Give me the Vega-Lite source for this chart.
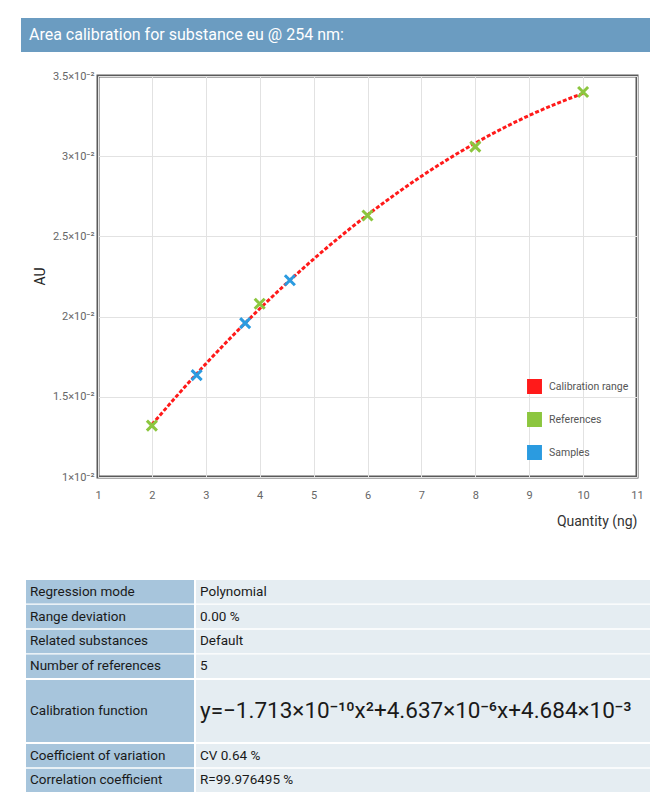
{
  "$schema": "https://vega.github.io/schema/vega-lite/v6.json",
  "background": "white",
  "padding": {"left": 21, "top": 18, "right": 0, "bottom": 0},
  "config": {
    "font": "Roboto",
    "concat": {"spacing": 0}
  },
  "datasets": {
    "curve": [
      {"series": "Calibration range", "q": 2, "au": 0.013273},
      {"series": "Calibration range", "q": 3, "au": 0.017053},
      {"series": "Calibration range", "q": 4, "au": 0.020491},
      {"series": "Calibration range", "q": 5, "au": 0.023587},
      {"series": "Calibration range", "q": 6, "au": 0.026339},
      {"series": "Calibration range", "q": 7, "au": 0.028749},
      {"series": "Calibration range", "q": 8, "au": 0.030817},
      {"series": "Calibration range", "q": 9, "au": 0.032542},
      {"series": "Calibration range", "q": 10, "au": 0.033924}
    ],
    "points": [
      {"series": "References", "q": 2, "au": 0.0132},
      {"series": "References", "q": 4, "au": 0.0208},
      {"series": "References", "q": 6, "au": 0.0263},
      {"series": "References", "q": 8, "au": 0.0306},
      {"series": "References", "q": 10, "au": 0.0340},
      {"series": "Samples", "q": 2.83, "au": 0.01635},
      {"series": "Samples", "q": 3.73, "au": 0.01959},
      {"series": "Samples", "q": 4.56, "au": 0.02227}
    ],
    "blank": [{"t": ""}],
    "rows1": [
      {"k": "Regression mode", "v": "Polynomial"},
      {"k": "Range deviation", "v": "0.00 %"},
      {"k": "Related substances", "v": "Default"},
      {"k": "Number of references", "v": "5"}
    ],
    "rows2": [
      {"k": "Calibration function", "v": "y=−1.713×10⁻¹⁰x²+4.637×10⁻⁶x+4.684×10⁻³"}
    ],
    "rows3": [
      {"k": "Coefficient of variation", "v": "CV 0.64 %"},
      {"k": "Correlation coefficient", "v": "R=99.976495 %"}
    ]
  },
  "vconcat": [
    {
      "width": 629,
      "height": 34,
      "view": {"fill": "#6b9cc1", "stroke": null},
      "data": {"values": [{"t": "Area calibration for substance eu @ 254 nm:"}]},
      "mark": {"type": "text", "align": "left", "baseline": "middle", "color": "white", "fontSize": 16},
      "encoding": {
        "text": {"field": "t"},
        "x": {"value": 8},
        "y": {"value": 17}
      }
    },
    {
      "vconcat": [
        {
          "hconcat": [
            {
              "width": 10, "height": 401, "view": {"stroke": null},
              "data": {"name": "blank"},
              "mark": {"type": "text"},
              "encoding": {"text": {"field": "t"}}
            },
            {
              "width": 539,
              "height": 401,
              "view": {"stroke": "#5a5a5a", "strokeWidth": 3},
              "layer": [
                {
                  "data": {"name": "curve"},
                  "mark": {"type": "line", "interpolate": "monotone", "strokeWidth": 3, "strokeDash": [4, 2]},
                  "encoding": {
                    "x": {"field": "q", "type": "quantitative"},
                    "y": {"field": "au", "type": "quantitative"},
                    "color": {"field": "series", "type": "nominal"}
                  }
                },
                {
                  "data": {"name": "points"},
                  "mark": {"type": "point", "shape": "M-1,-1L1,1M-1,1L1,-1", "filled": false, "strokeWidth": 3, "size": 100, "opacity": 1},
                  "encoding": {
                    "x": {"field": "q", "type": "quantitative"},
                    "y": {"field": "au", "type": "quantitative"},
                    "color": {"field": "series", "type": "nominal"}
                  }
                }
              ],
              "encoding": {
                "x": {
                  "field": "q", "type": "quantitative",
                  "scale": {"domain": [1, 11], "nice": false},
                  "axis": {
                    "values": [1, 2, 3, 4, 5, 6, 7, 8, 9, 10, 11],
                    "title": "Quantity (ng)", "titleAnchor": "end", "titleFontSize": 14, "titleFontWeight": "normal", "titleColor": "#333", "titlePadding": 14,
                    "labelFontSize": 11, "labelColor": "#666", "labelPadding": 12,
                    "domain": false, "ticks": false, "gridColor": "#e2e2e2", "labelFlush": false
                  }
                },
                "y": {
                  "field": "au", "type": "quantitative",
                  "scale": {"domain": [0.01, 0.035], "nice": false, "zero": false},
                  "axis": {
                    "values": [0.01, 0.015, 0.02, 0.025, 0.03, 0.035],
                    "labelExpr": "format(round(datum.value*1000)/10, '') + '×10⁻²'",
                    "title": "AU", "titleFontSize": 14, "titleFontWeight": "normal", "titleColor": "#222",
                    "titleX": -58, "titleY": 200, "titleBaseline": "middle", "titleAlign": "center", "titleAngle": -90,
                    "labelFontSize": 11, "labelColor": "#666", "labelPadding": 4,
                    "domain": false, "ticks": false, "gridColor": "#e2e2e2"
                  }
                },
                "color": {
                  "field": "series", "type": "nominal",
                  "scale": {"domain": ["Calibration range", "References", "Samples"], "range": ["#ff1a1a", "#8cc63f", "#2b9be0"]},
                  "legend": {
                    "title": null, "orient": "none", "legendX": 429, "legendY": 303,
                    "symbolType": "square", "symbolSize": 180, "symbolStrokeColor": "#d0d0d0", "symbolStrokeWidth": 1.5,
                    "symbolDash": [], "labelFontSize": 10.5, "labelColor": "#555", "rowPadding": 12, "labelOffset": 7,
                    "encode": {"symbols": {"update": {"fill": {"scale": "color", "field": "value"}, "opacity": {"value": 1}, "strokeDash": {"value": []}}}}
                  }
                }
              }
            }
          ],
          "spacing": 0,
          "resolve": {"scale": {"y": "independent", "x": "independent"}, "legend": {"color": "independent"}}
        },
        {
          "hconcat": [
            {
              "width": 3, "height": 209, "view": {"stroke": null},
              "data": {"name": "blank"},
              "mark": {"type": "text"},
              "encoding": {"text": {"field": "t"}}
            },
            {
              "vconcat": [
                {
                  "hconcat": [
                    {
                      "width": 168, "height": 98, "view": {"stroke": null},
                      "data": {"name": "rows1"},
                      "layer": [
                        {"mark": {"type": "rect", "color": "#a7c5dc"}, "encoding": {"x": {"value": 0}, "x2": {"value": "width"}}},
                        {"mark": {"type": "text", "align": "left", "baseline": "middle", "fontSize": 13.5, "color": "#1a1a1a"}, "encoding": {"x": {"value": 4}, "text": {"field": "k"}}}
                      ],
                      "encoding": {"y": {"field": "k", "type": "nominal", "sort": null, "axis": null, "scale": {"paddingInner": 0.06, "paddingOuter": 0}}}
                    },
                    {
                      "width": 454, "height": 98, "view": {"stroke": null},
                      "data": {"name": "rows1"},
                      "layer": [
                        {"mark": {"type": "rect", "color": "#e5edf2"}, "encoding": {"x": {"value": 0}, "x2": {"value": "width"}}},
                        {"mark": {"type": "text", "align": "left", "baseline": "middle", "fontSize": 13.5, "color": "#1a1a1a"}, "encoding": {"x": {"value": 4}, "text": {"field": "v"}}}
                      ],
                      "encoding": {"y": {"field": "k", "type": "nominal", "sort": null, "axis": null, "scale": {"paddingInner": 0.06, "paddingOuter": 0}}}
                    }
                  ],
                  "spacing": 2,
                  "resolve": {"scale": {"y": "independent"}}
                },
                {
                  "hconcat": [
                    {
                      "width": 168, "height": 62, "view": {"stroke": null},
                      "data": {"name": "rows2"},
                      "layer": [
                        {"mark": {"type": "rect", "color": "#a7c5dc"}, "encoding": {"x": {"value": 0}, "x2": {"value": "width"}}},
                        {"mark": {"type": "text", "align": "left", "baseline": "middle", "fontSize": 13.5, "color": "#1a1a1a"}, "encoding": {"x": {"value": 4}, "text": {"field": "k"}}}
                      ],
                      "encoding": {"y": {"field": "k", "type": "nominal", "sort": null, "axis": null, "scale": {"paddingInner": 0, "paddingOuter": 0}}}
                    },
                    {
                      "width": 454, "height": 62, "view": {"stroke": null},
                      "data": {"name": "rows2"},
                      "layer": [
                        {"mark": {"type": "rect", "color": "#e5edf2"}, "encoding": {"x": {"value": 0}, "x2": {"value": "width"}}},
                        {"mark": {"type": "text", "align": "left", "baseline": "middle", "fontSize": 22.5, "color": "#1a1a1a"}, "encoding": {"x": {"value": 4}, "text": {"field": "v"}}}
                      ],
                      "encoding": {"y": {"field": "k", "type": "nominal", "sort": null, "axis": null, "scale": {"paddingInner": 0, "paddingOuter": 0}}}
                    }
                  ],
                  "spacing": 2,
                  "resolve": {"scale": {"y": "independent"}}
                },
                {
                  "hconcat": [
                    {
                      "width": 168, "height": 48, "view": {"stroke": null},
                      "data": {"name": "rows3"},
                      "layer": [
                        {"mark": {"type": "rect", "color": "#a7c5dc"}, "encoding": {"x": {"value": 0}, "x2": {"value": "width"}}},
                        {"mark": {"type": "text", "align": "left", "baseline": "middle", "fontSize": 13.5, "color": "#1a1a1a"}, "encoding": {"x": {"value": 4}, "text": {"field": "k"}}}
                      ],
                      "encoding": {"y": {"field": "k", "type": "nominal", "sort": null, "axis": null, "scale": {"paddingInner": 0.06, "paddingOuter": 0}}}
                    },
                    {
                      "width": 454, "height": 48, "view": {"stroke": null},
                      "data": {"name": "rows3"},
                      "layer": [
                        {"mark": {"type": "rect", "color": "#e5edf2"}, "encoding": {"x": {"value": 0}, "x2": {"value": "width"}}},
                        {"mark": {"type": "text", "align": "left", "baseline": "middle", "fontSize": 13.5, "color": "#1a1a1a"}, "encoding": {"x": {"value": 4}, "text": {"field": "v"}}}
                      ],
                      "encoding": {"y": {"field": "k", "type": "nominal", "sort": null, "axis": null, "scale": {"paddingInner": 0.06, "paddingOuter": 0}}}
                    }
                  ],
                  "spacing": 2,
                  "resolve": {"scale": {"y": "independent"}}
                }
              ],
              "spacing": 2,
              "resolve": {"scale": {"y": "independent"}}
            }
          ],
          "spacing": 2,
          "resolve": {"scale": {"y": "independent"}}
        }
      ],
      "spacing": 50,
      "resolve": {"scale": {"y": "independent", "x": "independent"}, "legend": {"color": "independent"}}
    }
  ],
  "spacing": 16,
  "resolve": {"legend": {"color": "independent"}}
}
